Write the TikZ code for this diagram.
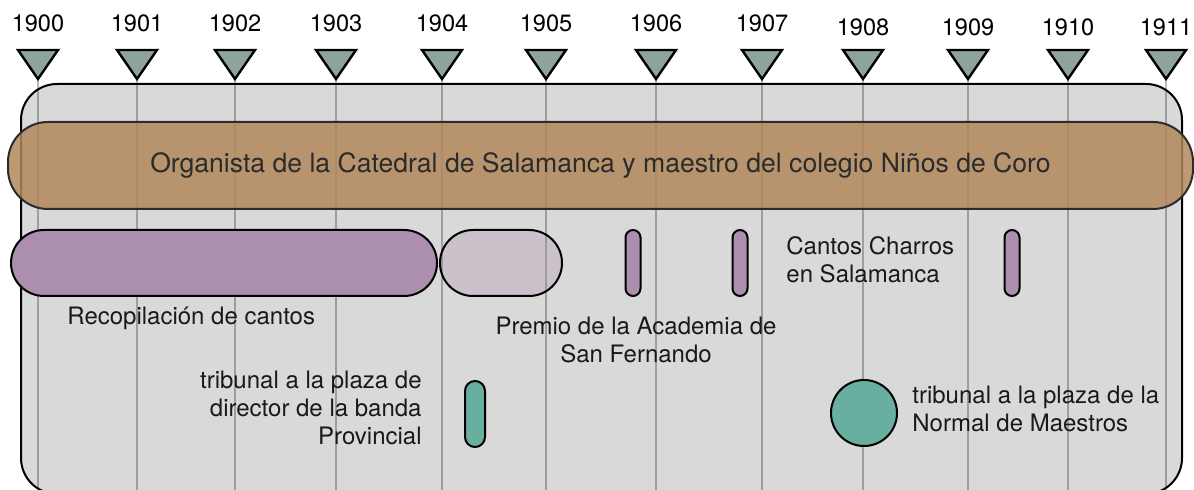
\documentclass[tikz,border=0pt]{standalone}
\usepackage{fontspec}
\setmainfont{TeX Gyre Heros}
\usepackage{xcolor}
\definecolor{bandbrown}{HTML}{B2885B}
\definecolor{mauve}{HTML}{AC8FAE}
\definecolor{seagreen}{HTML}{68AFA0}
\definecolor{tickgray}{HTML}{8FA39D}
\definecolor{framegray}{HTML}{D9D9D9}
\definecolor{inkgray}{HTML}{2B2B2B}
\usepackage{tikz}
\usetikzlibrary{positioning}

\begin{document}
\begin{tikzpicture}[x=0.5pt,y=-0.5pt,
  yearlbl/.style={font=\fontsize{11.8}{14}\selectfont,inner sep=0pt},
  marker/.style={draw=black,line width=1.2pt,fill=tickgray,line join=miter},
  yearline/.style={draw=black,draw opacity=0.27,line width=1pt},
  frame/.style={draw=black,line width=1pt,fill=framegray,rounded corners=18pt},
  band/.style={draw=inkgray,line width=1pt,fill=bandbrown,fill opacity=0.85,text opacity=1,text=inkgray,
    minimum width=592.5pt,minimum height=43.5pt,rounded corners=20pt,font=\fontsize{13.3}{16}\selectfont},
  pill/.style={draw=black,line width=1pt,minimum height=33pt,inner sep=0pt,rounded corners=#1},
  pill/.default=3.75pt,
  lbl/.style={font=\fontsize{12}{14}\selectfont,inner sep=0pt,text=black!90}
]
\useasboundingbox (0,0) rectangle (1194,490);
\draw[frame] (21,84) rectangle (1182,494);
\foreach \x/\yr/\ty in {38/1900/23,137/1901/23,235/1902/23,336/1903/23,442/1904/23,546/1905/23,
    656/1906/23,762/1907/23,863/1908/27,968/1909/27,1068/1910/27,1166/1911/27}{
  \coordinate (a\yr) at (\x,79);
  \coordinate (b\yr) at (\x,494);
  \draw[yearline] (a\yr) -- (b\yr);
  \draw[marker] (\x-20,50) -- (\x+20,50) -- (a\yr) -- cycle;
  \node[yearlbl] (y\yr) at (\x,\ty) {\yr};
}
\node[band] (organista) at (600.5,165.5) {Organista de la Catedral de Salamanca y maestro del colegio Niños de Coro};
\node[pill=16.5pt,fill=mauve,minimum width=213pt] (recop) at (224,263) {};
\node[pill=16.5pt,fill=mauve,fill opacity=0.32,minimum width=61pt] (premio) at (501,263) {};
\node[pill,fill=mauve,minimum width=7.5pt] (ev1906) at (633,263) {};
\node[pill,fill=mauve,minimum width=7.5pt] (ev1907) at (740,263) {};
\node[pill,fill=mauve,minimum width=7.5pt] (ev1909) at (1012,263) {};
\node[pill=5pt,fill=seagreen,minimum width=10pt] (banda) at (475,414) {};
\node[draw=black,line width=1pt,circle,fill=seagreen,minimum size=33pt,inner sep=0pt] (normal) at (864,413) {};
\node[lbl,anchor=west] (recoplbl) at (67,318) {Recopilación de cantos};
\node[lbl,align=center] (premiolbl) at (636,340) {Premio de la Academia de\\San Fernando};
\node[lbl,align=left,anchor=west] (charroslbl) at (786,260) {Cantos Charros\\en Salamanca};
\node[lbl,align=right,left=21pt of banda,yshift=3pt] (bandalbl) {tribunal a la plaza de\\director de la banda\\Provincial};
\node[lbl,align=left,right=7pt of normal,yshift=2pt] (normallbl) {tribunal a la plaza de la\\Normal de Maestros};
\end{tikzpicture}
\end{document}
